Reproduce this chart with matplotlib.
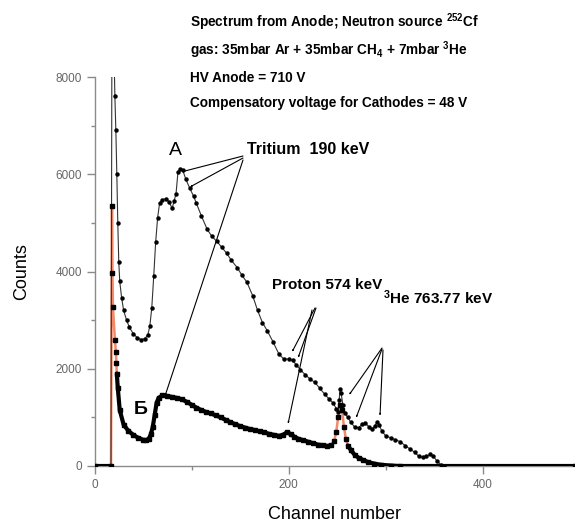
import numpy as np
import matplotlib
matplotlib.use("Agg")
import matplotlib.pyplot as plt

plt.rcParams['font.family'] = ['Liberation Sans', 'DejaVu Sans']
plt.rcParams['mathtext.fontset'] = 'custom'
plt.rcParams['mathtext.rm'] = 'Liberation Sans:bold'
plt.rcParams['mathtext.it'] = 'Liberation Sans:bold'
plt.rcParams['mathtext.bf'] = 'Liberation Sans:bold'

# ---- data ----
ch_upper = [0, 17, 18, 20, 21, 22, 23, 24, 25, 26, 28, 30, 33, 36, 40, 44, 48, 52, 55, 57,
            59, 61, 63, 65, 67, 70, 74, 77, 80, 82, 84, 86, 88, 91, 94, 98, 102, 105, 110,
            116, 121, 126, 131, 136, 141, 147, 152, 157, 163, 168, 173, 178, 184, 190, 195,
            200, 204, 208, 212, 217, 222, 227, 232, 237, 242, 246, 249, 251, 252, 253, 254,
            256, 258, 261, 264, 268, 272, 276, 279, 283, 286, 289, 291, 293, 296, 300, 305,
            310, 315, 320, 325, 330, 334, 338, 342, 346, 349, 353, 357, 360, 495]
counts_upper = [0, 0, 9500, 8600, 7600, 6900, 6000, 5000, 4200, 3800, 3450, 3200, 3000, 2850,
                2720, 2640, 2600, 2620, 2700, 2880, 3250, 3900, 4600, 5100, 5400, 5480, 5500,
                5420, 5300, 5450, 5600, 6050, 6100, 6080, 5900, 5720, 5550, 5400, 5150, 4870,
                4720, 4620, 4500, 4380, 4230, 4080, 3920, 3780, 3500, 3200, 2950, 2780, 2550,
                2300, 2200, 2200, 2170, 2080, 1980, 1880, 1790, 1720, 1600, 1480, 1370, 1290,
                1180, 1120, 1350, 1580, 1500, 1250, 1080, 1000, 900, 800, 790, 860, 880, 800,
                760, 830, 900, 850, 720, 620, 580, 540, 500, 420, 350, 280, 200, 180, 200, 240,
                200, 100, 20, 0, 0]

ch_lower = [0, 17, 18, 18.5, 19, 21, 22, 22.5, 23, 24, 26, 30, 35, 40, 45, 50, 53, 56, 58, 60,
            62, 64, 66, 70, 75, 80, 85, 90, 95, 100, 105, 110, 115, 120, 125, 130, 135, 140,
            145, 150, 155, 160, 165, 170, 175, 180, 185, 190, 194, 198, 202, 206, 210, 215,
            220, 225, 230, 235, 240, 244, 247, 249, 251, 253, 255, 257, 259, 261, 264, 268,
            272, 277, 282, 288, 295, 305, 315, 495]
counts_lower = [0, 0, 5350, 3970, 3270, 2600, 2350, 2120, 1900, 1600, 1150, 850, 720, 640, 580,
                540, 530, 560, 650, 800, 1050, 1300, 1400, 1450, 1440, 1420, 1400, 1370, 1320,
                1260, 1200, 1150, 1110, 1080, 1040, 1000, 950, 900, 860, 820, 790, 760, 740,
                710, 690, 660, 640, 620, 640, 690, 660, 600, 560, 530, 500, 470, 440, 430, 410,
                430, 520, 700, 1000, 1250, 1150, 800, 550, 420, 330, 230, 170, 120, 80, 50, 25,
                10, 0, 0]

x_ticks = [0, 200, 400]
y_ticks = [0, 2000, 4000, 6000, 8000]

header_lines = [
    r"Spectrum from Anode; Neutron source $^{252}$Cf",
    r"gas: 35mbar Ar + 35mbar CH$_4$ + 7mbar $^3$He",
    "HV Anode = 710 V",
    "Compensatory voltage for Cathodes = 48 V",
]

W, H = 575, 528
fig = plt.figure(figsize=(W / 100, H / 100), dpi=100)
ax = fig.add_axes([94.5 / W, (H - 466) / H, (W - 94.5) / W, (466 - 77) / H])

xu = np.array(ch_upper, float)
yu = np.array(counts_upper, float)
xl = np.array(ch_lower, float)
yl = np.array(counts_lower, float)

# upper spectrum: thin line with small dots
ax.plot(xu, yu, color='#333333', lw=0.8, marker='o', ms=2.2, mfc='black', mec='black', zorder=3)

# lower spectrum: orange connecting line, black markers, thick black body
ax.plot(xl, yl, color='#f08a6a', lw=1.8, zorder=2)
ax.plot(xl, yl, ls='none', marker='s', ms=2.6, color='black', zorder=4)
mask = ((xl >= 23) & (xl <= 246)) | (xl >= 261) | (xl <= 17)
yl_thick = np.where(mask, yl, np.nan)
ax.plot(xl, yl_thick, color='black', lw=3.0, solid_capstyle='round', zorder=4)

ax.set_xlim(0, 495)
ax.set_ylim(0, 8000)

for s in ['top', 'right']:
    ax.spines[s].set_visible(False)
for s in ['left', 'bottom']:
    ax.spines[s].set_color('#8a8a8a')
    ax.spines[s].set_linewidth(1.0)

ax.set_xticks(x_ticks)
ax.set_xticks([100, 300], minor=True)
ax.set_yticks(y_ticks)
ax.set_yticks([1000, 3000, 5000, 7000], minor=True)
ax.tick_params(axis='both', which='major', direction='out', length=6, width=1.0,
               color='#8a8a8a', labelcolor='#666666', labelsize=8.5, pad=3)
ax.tick_params(axis='both', which='minor', direction='out', length=3, width=1.0,
               color='#8a8a8a')

ax.set_xlabel('Channel number', fontsize=13, labelpad=11)
ax.set_ylabel('Counts', fontsize=13, labelpad=18)


def fx(px):
    return px / W


def fy(py):
    return 1 - py / H


for txt, py in zip(header_lines, [22, 50, 78, 103]):
    fig.text(fx(190), fy(py), txt, fontsize=9.8, fontweight='bold', ha='left', va='center')

fig.text(fx(175), fy(150), 'A', fontsize=14, ha='center', va='center')
fig.text(fx(141), fy(410), 'Б', fontsize=14, fontweight='bold', ha='center', va='center')
fig.text(fx(247), fy(149), 'Tritium  190 keV', fontsize=11.5, fontweight='bold', ha='left', va='center')
fig.text(fx(272), fy(285), 'Proton 574 keV', fontsize=11, fontweight='bold', ha='left', va='center')
fig.text(fx(383), fy(298), r'$^3$He 763.77 keV', fontsize=11, fontweight='bold', ha='left', va='center')

arrow_kw = dict(arrowstyle='-|>,head_length=0.7,head_width=0.25', color='black', lw=0.8,
                shrinkA=0, shrinkB=0)


def arrow(p0, p1):
    fig.add_artist(matplotlib.patches.FancyArrowPatch(
        (fx(p0[0]), fy(p0[1])), (fx(p1[0]), fy(p1[1])), transform=fig.transFigure, **arrow_kw))


arrow((243, 156), (181, 172))
arrow((243, 158), (190, 187))
arrow((243, 160), (165, 396))
arrow((315, 308), (292, 352))
arrow((316, 308), (298, 358))
arrow((312, 310), (288, 424))
arrow((382, 348), (349, 395))
arrow((382, 349), (356, 418))
arrow((383, 350), (380, 416))

fig.savefig('out.png', dpi=100)
